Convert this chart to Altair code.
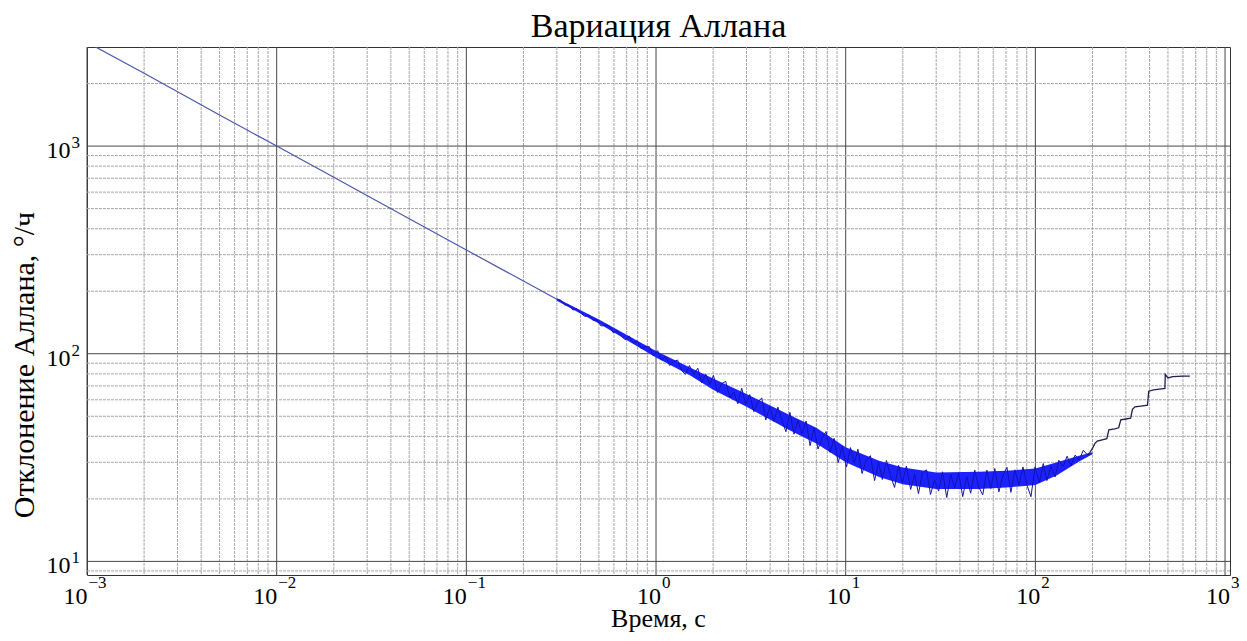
import math
import altair as alt
import pandas as pd

# ---------------- data ----------------
TITLE = "Вариация Аллана"
X_TITLE = "Время, с"
Y_TITLE = "Отклонение Аллана, °/ч"

tau_clean = [0.001, 0.002, 0.005, 0.01, 0.02, 0.05, 0.1, 0.2, 0.3]
dev_clean = [3160, 2240, 1410, 1000, 707, 447, 316, 224, 183]

tau_band = [0.3, 0.5, 1, 1.5, 2, 3, 5, 7, 10, 15, 20, 30, 50, 70, 100, 130, 170, 200]
band_lo = [180, 140, 96, 79, 67, 55.5, 43, 37, 30, 25.5, 23.5, 22.3, 22.3, 22.7, 23.3, 26, 30.3, 32.8]
band_hi = [185, 146, 103, 86, 76, 64, 51, 44, 35.5, 30.5, 28.3, 26.8, 27, 27.3, 28, 30, 32.3, 33.5]

tau_noisy = [
    0.30, 0.315, 0.33, 0.347, 0.365, 0.383, 0.402, 0.422, 0.443, 0.465, 0.488, 0.513,
    0.538, 0.565, 0.594, 0.623, 0.655, 0.687, 0.722, 0.758, 0.796, 0.835, 0.877, 0.921,
    0.967,
    1.02, 1.07, 1.12, 1.18, 1.24, 1.30, 1.36, 1.43, 1.50, 1.58, 1.66, 1.74, 1.83, 1.92,
    2.01, 2.11, 2.22, 2.33, 2.45, 2.57, 2.70, 2.83, 2.97, 3.12, 3.28, 3.44, 3.61, 3.79,
    3.98, 4.18, 4.39, 4.61, 4.84, 5.08, 5.34, 5.60, 5.88, 6.18, 6.49, 6.81, 7.15, 7.51,
    7.88, 8.28, 8.69, 9.13, 9.58,
    10.1, 10.6, 11.1, 11.6, 12.2, 12.8, 13.5, 14.2, 14.9, 15.6, 16.4, 17.2, 18.1, 19.0,
    19.9, 20.9, 22.0, 23.1, 24.2, 25.4, 26.7, 28.0, 29.4, 30.9, 32.4, 34.1, 35.8, 37.6,
    39.4, 41.4, 43.5, 45.6, 47.9, 50.3, 52.8, 55.5, 58.2, 61.1, 64.2, 67.4, 70.8, 74.3,
    78.0, 81.9, 86.0, 90.3, 94.8, 99.6, 105, 110, 115, 121, 127, 133, 140, 147, 154,
    162, 170, 179, 188,
]
dev_noisy = [
    183, 181, 172, 171, 162.4, 164.5, 156.7, 151.2, 153.7, 144.8, 145.7, 136,
    137, 136.4, 126.3, 129, 122.1, 116.7, 121.6, 112.6, 115.2, 105.9, 108, 108.2,
    97.6,
    103.5, 93.1, 97.4, 87.7, 91.7, 93.2, 83.3, 79.5, 87.7, 79.5, 85.2, 72.5, 79.7, 71.3,
    78.6, 65.1, 71.8, 73.6, 61.5, 65.5, 57.4, 68.2, 57.2, 63.6, 52.6, 58.4, 61.3, 48.0,
    55.5, 47.3, 55.3, 47.8, 42.1, 52.2, 41.0, 47.7, 41.2, 47.4, 36.1, 43.7, 34.8, 39.3,
    42.2, 33.5, 39.1, 29.9, 35.8,
    28.5, 35.3, 29.7, 34.7, 26.5, 30.6, 32.3, 24.5, 30.1, 24.8, 30.6, 25.9, 22.7, 29.0,
    23.9, 28.8, 22.2, 26.2, 21.2, 26.8, 27.6, 21.0, 24.6, 21.8, 27.0, 20.3, 26.2, 22.6,
    26.7, 20.5, 25.6, 21.3, 27.5, 22.8, 20.9, 27.5, 22.4, 28.0, 21.6, 25.8, 28.4, 21.5,
    27.6, 23.4, 28.5, 23.3, 20.5, 28.5, 24.0, 29.6, 24.5, 28.8, 25.5, 30.7, 28.6, 32.1, 28.9,
    32.5, 30.8, 34.3, 32.6,
]

tau_steps = [188, 194, 200, 206, 212, 225, 238, 244, 262, 275, 282, 300, 318, 325, 335,
             360, 390, 396, 420, 450, 482, 484, 500, 530, 600, 652]
dev_steps = [32.6, 33.5, 35, 37, 38, 38.5, 39, 43, 43.5, 44, 48, 48.5, 49, 54, 55.5,
             56, 56.5, 66, 67, 67.5, 68, 79.5, 76.5, 77.5, 78, 78]

x_decades = [0.001, 0.01, 0.1, 1, 10, 100, 1000]
x_exponents = ["−3", "−2", "−1", "0", "1", "2", "3"]
y_decades = [10, 100, 1000]
y_exponents = ["1", "2", "3"]

x_grid = [m * 10.0 ** k for k in range(-3, 3) for m in range(1, 10)] + [1000]
y_grid = [9] + [m * 10 ** k for k in (1, 2) for m in range(1, 10)] + [1000, 2000]

# ---------------- layout ----------------
W, H = 1143, 528
FONT = "Liberation Serif"
xscale = alt.Scale(type="log", domain=[0.001, 1062])
yscale = alt.Scale(type="log", domain=[8.6, 3000])


def is_decade(v):
    lv = math.log10(v)
    return abs(lv - round(lv)) < 1e-6


df_xg = pd.DataFrame({"v": x_grid, "major": [is_decade(v) for v in x_grid]})
df_yg = pd.DataFrame({"v": y_grid, "major": [is_decade(v) for v in y_grid]})
df_clean = pd.DataFrame({"tau": tau_clean, "dev": dev_clean})
df_band = pd.DataFrame({"tau": tau_band, "lo": band_lo, "hi": band_hi})
df_noisy = pd.DataFrame({"tau": tau_noisy, "dev": dev_noisy})
df_steps = pd.DataFrame({"tau": tau_steps, "dev": dev_steps})

xn = [(t, e) for t, e in zip(x_decades, x_exponents) if e.startswith("−")]
xp = [(t, e) for t, e in zip(x_decades, x_exponents) if not e.startswith("−")]
df_xneg = pd.DataFrame({"tau": [a for a, _ in xn], "exp": [b for _, b in xn]})
df_xpos = pd.DataFrame({"tau": [a for a, _ in xp], "exp": [b for _, b in xp]})
df_ylab = pd.DataFrame({"dev": y_decades, "exp": y_exponents})


def X(field="tau"):
    return alt.X(f"{field}:Q", scale=xscale, axis=None)


def Y(field="dev"):
    return alt.Y(f"{field}:Q", scale=yscale, axis=None)


grid_color = alt.condition("datum.major", alt.value("#474747"), alt.value("#a6a6a6"))
grid_dash = alt.condition("datum.major", alt.value([1, 0]), alt.value([3, 1]))

xgrid = alt.Chart(df_xg).mark_rule(strokeWidth=1).encode(
    x=X("v"), color=grid_color, strokeDash=grid_dash)
ygrid = alt.Chart(df_yg).mark_rule(strokeWidth=1).encode(
    y=Y("v"), color=grid_color, strokeDash=grid_dash)

base_line = alt.Chart(df_clean).mark_line(color="#4b57aa", strokeWidth=1.2, clip=True).encode(
    x=X(), y=Y())
band = alt.Chart(df_band).mark_area(color="#1c22ff", clip=True).encode(
    x=X(), y=Y("lo"), y2="hi:Q")
noisy = alt.Chart(df_noisy).mark_line(color="#1212b0", strokeWidth=1, clip=True).encode(
    x=X(), y=Y())
steps = alt.Chart(df_steps).mark_line(color="#1e1e52", strokeWidth=1.3, clip=True).encode(
    x=X(), y=Y())

txt = dict(font=FONT, color="black", baseline="alphabetic")
BASE_FS, EXP_FS = 24, 17
xl_neg_base = alt.Chart(df_xneg).mark_text(text="10", fontSize=BASE_FS, align="right", dx=0.5, **txt).encode(
    x=X(), y=alt.value(H + 29))
xl_neg_exp = alt.Chart(df_xneg).mark_text(fontSize=EXP_FS, align="left", dx=1.5, **txt).encode(
    x=X(), y=alt.value(H + 13), text="exp:N")
xl_pos_base = alt.Chart(df_xpos).mark_text(text="10", fontSize=BASE_FS, align="right", dx=5, **txt).encode(
    x=X(), y=alt.value(H + 29))
xl_pos_exp = alt.Chart(df_xpos).mark_text(fontSize=EXP_FS, align="left", dx=6, **txt).encode(
    x=X(), y=alt.value(H + 13), text="exp:N")
yl_base = alt.Chart(df_ylab).mark_text(text="10", fontSize=BASE_FS, align="right", dy=12, **txt).encode(
    y=Y(), x=alt.value(-16.5))
yl_exp = alt.Chart(df_ylab).mark_text(fontSize=EXP_FS, align="left", dy=2, **txt).encode(
    y=Y(), x=alt.value(-15.5), text="exp:N")

title = alt.Chart(pd.DataFrame({"t": [TITLE]})).mark_text(fontSize=34, align="center", **txt).encode(
    x=alt.value(W / 2), y=alt.value(-10), text="t:N")
xtitle = alt.Chart(pd.DataFrame({"t": [X_TITLE]})).mark_text(fontSize=26, align="center", **txt).encode(
    x=alt.value(W / 2), y=alt.value(H + 52), text="t:N")
ytitle = alt.Chart(pd.DataFrame({"t": [Y_TITLE]})).mark_text(fontSize=30, align="center", angle=270, **txt).encode(
    x=alt.value(-53), y=alt.value(318), text="t:N")

chart = alt.layer(
    xgrid, ygrid, base_line, band, noisy, steps,
    xl_neg_base, xl_neg_exp, xl_pos_base, xl_pos_exp, yl_base, yl_exp,
    title, xtitle, ytitle,
).properties(
    width=W, height=H,
    padding={"left": 79, "top": 39, "right": 9, "bottom": 58},
    autosize=alt.AutoSizeParams(type="none"),
    background="white",
).configure_view(stroke="#333333", strokeWidth=1)

chart.save("out.html", embed_options={"renderer": "svg", "actions": False})
